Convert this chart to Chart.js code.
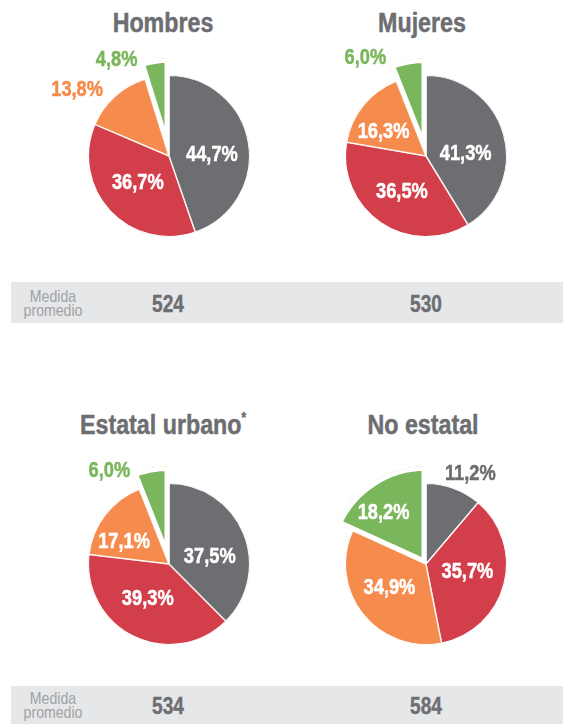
<!DOCTYPE html>
<html lang="es">
<head>
<meta charset="utf-8">
<script src="https://cdn.jsdelivr.net/npm/chart.js@4.4.1/dist/chart.umd.min.js"></script>
<style>
  html, body { margin: 0; padding: 0; background: #fff; overflow: hidden; }
  body {
    position: relative; width: 568px; height: 724px;
    font-family: "Liberation Sans", Arial, sans-serif;
  }
  canvas { position: absolute; }
  /* no condensed face installed: squeeze Liberation Sans instead */
  .narrow { transform: scaleX(0.83); transform-origin: 50% 50%; }
  .title {
    position: absolute; width: 300px; text-align: center;
    font-weight: bold; font-size: 28px; line-height: 28px; color: #6d6e71;
    white-space: nowrap; -webkit-text-stroke: 0.5px #6d6e71;
  }
  .title sup { font-size: 14px; line-height: 0; vertical-align: 12px; }
  .band { position: absolute; left: 11px; width: 552px; height: 41px; background: #e6e7e8; }
  .band .lbl {
    position: absolute; left: 2px; width: 80px; text-align: center;
    font-size: 17px; line-height: 14px; color: #a0a2a5;
  }
  .band .val {
    position: absolute; width: 100px; text-align: center;
    font-weight: bold; font-size: 23px; line-height: 22px; color: #6d6e71;
    -webkit-text-stroke: 0.4px #6d6e71;
  }
</style>
</head>
<body>
<div class="title narrow" style="left:13px; top:9px">Hombres</div>
<div class="title narrow" style="left:272px; top:9px">Mujeres</div>
<div class="title narrow" style="left:13px; top:411px">Estatal urbano<sup>*</sup></div>
<div class="title narrow" style="left:273px; top:411px">No estatal</div>

<div class="band" style="top:282px">
  <div class="lbl narrow" style="top:8px">Medida<br>promedio</div>
  <div class="val narrow" id="val0" style="left:107px; top:11px"></div>
  <div class="val narrow" id="val1" style="left:365px; top:11px"></div>
</div>
<div class="band" style="top:686px">
  <div class="lbl narrow" style="top:6px">Medida<br>promedio</div>
  <div class="val narrow" id="val2" style="left:107px; top:9px"></div>
  <div class="val narrow" id="val3" style="left:365px; top:9px"></div>
</div>

<canvas id="c0" width="300" height="260" style="left:19px; top:26px"></canvas>
<canvas id="c1" width="300" height="260" style="left:276px; top:26px"></canvas>
<canvas id="c2" width="300" height="260" style="left:19px; top:434px"></canvas>
<canvas id="c3" width="300" height="260" style="left:276px; top:434px"></canvas>

<script>
// data (percent of students per slice)
const groups = ["Hombres", "Mujeres", "Estatal urbano", "No estatal"];
const slices = ["Gris", "Rojo", "Naranja", "Verde"];
const hombres = [44.7, 36.7, 13.8, 4.8];
const mujeres = [41.3, 36.5, 16.3, 6.0];
const estatalUrbano = [37.5, 39.3, 17.1, 6.0];
const noEstatal = [11.2, 35.7, 34.9, 18.2];
const medidaPromedio = [524, 530, 534, 584];

const sliceColors = ["#6d6e71", "#d33e4b", "#f58b4c", "#7ab65b"];
const squeeze = 0.83;

// label placement: [radius factor, angle nudge in degrees, outside?]
const placement = [
  [[0.53, 8, false], [0.51, 2, false], [1.40, -12, true], [1.35, -20, true]],
  [[0.49, 13, false], [0.53, 0, false], [0.60, -10, false], [1.42, -21, true]],
  [[0.51, 13, false], [0.51, 5, false], [0.62, -11, false], [1.36, -22, true]],
  [[1.24, 6, true], [0.52, -4, false], [0.54, 5, false], [0.82, -7, false]],
];

const explodedIndex = 3;
const pop = 17;

function explodePlugin() {
  return {
    id: "explode",
    beforeDatasetsDraw(chart) {
      const meta = chart.getDatasetMeta(0);
      const arc = meta.data[explodedIndex];
      arc.outerRadius = meta.controller.outerRadius + pop;
    },
  };
}

function labelPlugin(place) {
  return {
    id: "sliceLabels",
    afterDatasetsDraw(chart) {
      const ctx = chart.ctx;
      const meta = chart.getDatasetMeta(0);
      const r = meta.controller.outerRadius;
      const values = chart.data.datasets[0].data;
      meta.data.forEach((arc, i) => {
        const [f, nudge, outside] = place[i];
        const a = (arc.startAngle + arc.endAngle) / 2 + (nudge * Math.PI) / 180;
        const text = values[i].toFixed(1).replace(".", ",") + "%";
        ctx.save();
        ctx.translate(arc.x + Math.cos(a) * f * r, arc.y + Math.sin(a) * f * r);
        ctx.scale(squeeze, 1);
        ctx.font = "bold 22px 'Liberation Sans', Arial, sans-serif";
        ctx.textAlign = "center";
        ctx.textBaseline = "middle";
        ctx.fillStyle = outside ? sliceColors[i] : "#fff";
        ctx.strokeStyle = ctx.fillStyle;
        ctx.lineWidth = 0.5;
        ctx.fillText(text, 0, 0);
        ctx.strokeText(text, 0, 0);
        ctx.restore();
      });
    },
  };
}

function makePie(id, values, place) {
  return new Chart(document.getElementById(id), {
    type: "pie",
    data: {
      labels: slices,
      datasets: [
        {
          data: values,
          backgroundColor: sliceColors,
          borderColor: "#fff",
          borderAlign: "inner",
          borderWidth: (ctx) => (ctx.dataIndex === explodedIndex ? 4.5 : 0.75),
          radius: 81,
        },
      ],
    },
    options: {
      responsive: false,
      animation: false,
      events: [],
      layout: { padding: 0 },
      plugins: {
        legend: { display: false },
        title: { display: false },
        tooltip: { enabled: false },
      },
    },
    plugins: [explodePlugin(), labelPlugin(place)],
  });
}

[hombres, mujeres, estatalUrbano, noEstatal].forEach((values, i) => {
  makePie("c" + i, values, placement[i]);
  document.getElementById("val" + i).textContent = medidaPromedio[i];
});
</script>
</body>
</html>
